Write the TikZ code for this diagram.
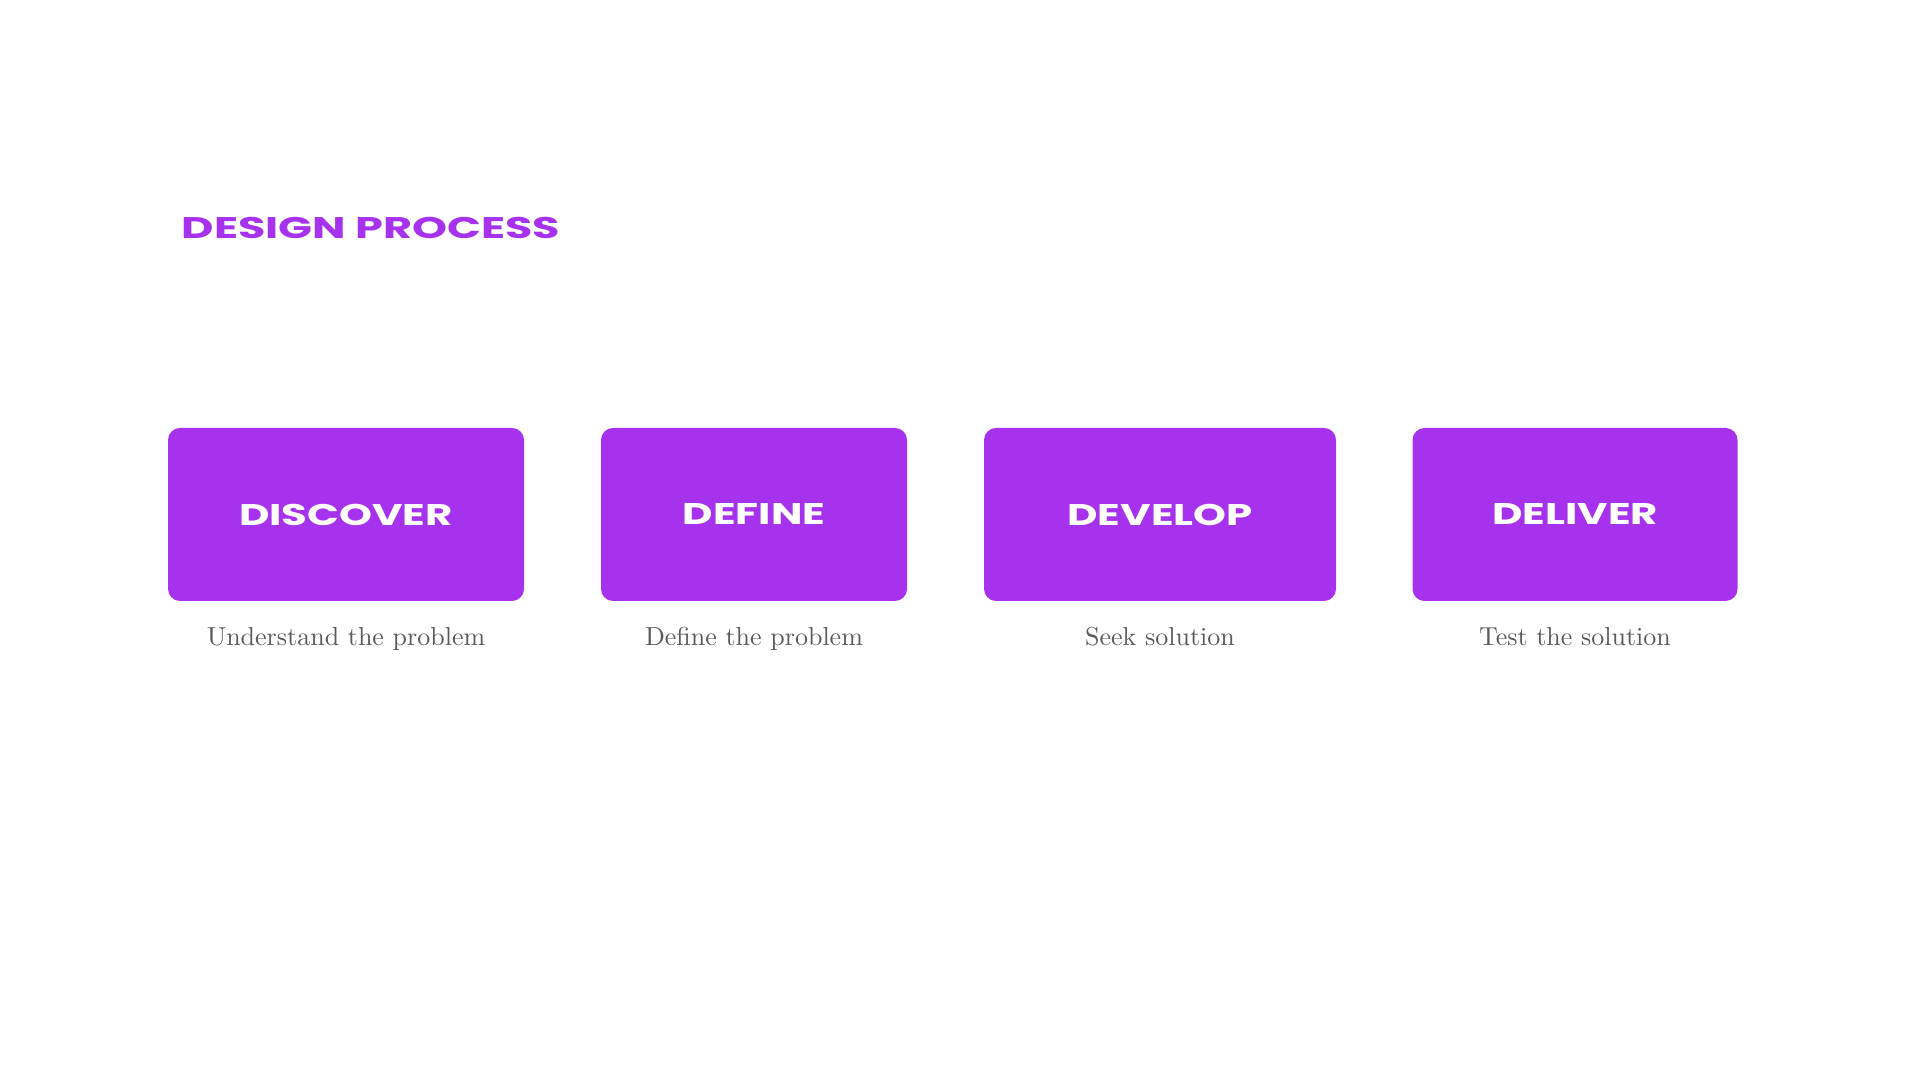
\documentclass[tikz,border=0pt]{standalone}
\usepackage{fontspec}
\usepackage{tikz}
\usetikzlibrary{positioning}

\newfontfamily\headfont{Poppins}
\newfontfamily\capfont{lmroman10-regular}[Extension=.otf]
\definecolor{phasepurple}{HTML}{A732EE}
\definecolor{captiongray}{HTML}{5A5A5A}
\newcommand{\widetext}[2][1.4]{\scalebox{#1}[1]{#2}}

\begin{document}
\begin{tikzpicture}[
      node distance=0.25cm,
      phase/.style={rectangle, fill=phasepurple, rounded corners=0.12cm, minimum height=1.73cm, text=white, font=\headfont\bfseries\fontsize{8.5}{10}\selectfont},
      caption/.style={inner sep=0pt, text=captiongray, font=\capfont\fontsize{7.4}{9}\selectfont}
    ]
      \useasboundingbox (0,0) rectangle (19.2,10.8);

      % Title
      \node[anchor=west, inner sep=0pt, text=phasepurple, font=\headfont\bfseries\fontsize{8.5}{10}\selectfont] (title) at (1.81,8.525) {\widetext[1.49]{DESIGN PROCESS}};

      % Phases
      \node[phase, minimum width=3.56cm] (discover) at (3.46,5.655) {\widetext{DISCOVER}};
      \node[phase, minimum width=3.06cm] (define) at (7.54,5.655) {\widetext{DEFINE}};
      \node[phase, minimum width=3.52cm] (develop) at (11.60,5.655) {\widetext{DEVELOP}};
      \node[phase, minimum width=3.25cm] (deliver) at (15.75,5.655) {\widetext{DELIVER}};

      % Captions
      \node[caption, below=of discover] (discover_text) {Understand the problem};
      \node[caption, below=of define] (define_text) {Define the problem};
      \node[caption, below=of develop] (develop_text) {Seek solution};
      \node[caption, below=of deliver] (deliver_text) {Test the solution};
    \end{tikzpicture}
\end{document}
